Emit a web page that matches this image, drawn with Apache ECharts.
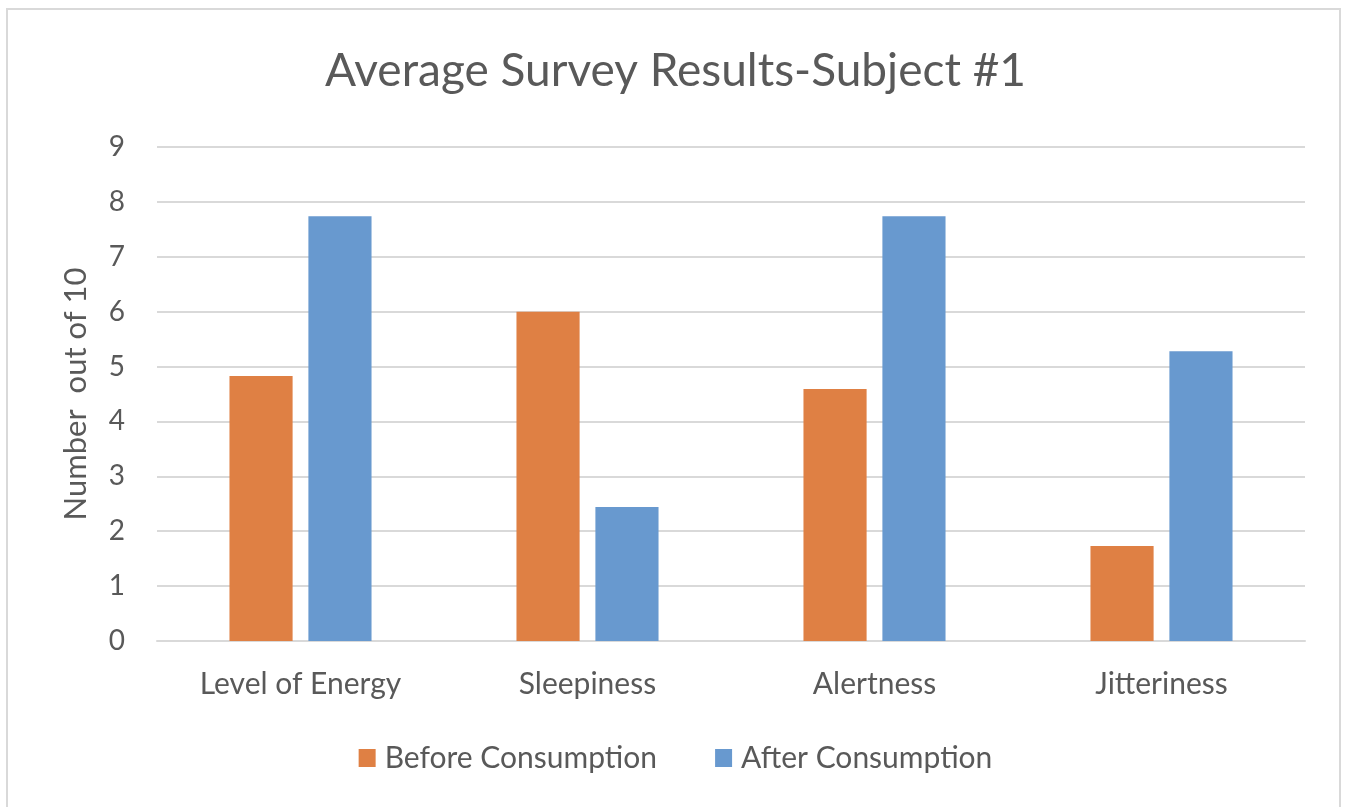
<!DOCTYPE html>
<html>
<head>
<meta charset="utf-8">
<script src="https://cdn.jsdelivr.net/npm/echarts@6/dist/echarts.min.js"></script>
<style>
  html, body { margin: 0; padding: 0; background: #fff; }
  #frame { position: absolute; left: 6px; top: 8px; width: 1335px; height: 810px; border: 2px solid #d9d9d9; box-sizing: border-box; }
  #chart { position: absolute; left: 0; top: 0; width: 1351px; height: 807px; }
</style>
</head>
<body>
<div id="frame"></div>
<div id="chart"></div>
<script>
const categories = ['Level of Energy', 'Sleepiness', 'Alertness', 'Jitteriness'];
const beforeValues = [4.83, 6.0, 4.59, 1.73];
const afterValues = [7.74, 2.44, 7.74, 5.28];

const textColor = '#595959';
const font = 'Lato, "Open Sans", sans-serif';

const chart = echarts.init(document.getElementById('chart'));
const option = {
  title: {
    text: 'Average Survey Results-Subject #1',
    left: 'center',
    top: 43,
    textStyle: { fontFamily: font, fontSize: 46, fontWeight: 'normal', color: textColor }
  },
  legend: {
    bottom: 29,
    left: 'center',
    itemWidth: 17,
    itemHeight: 18,
    itemGap: 58,
    icon: 'rect',
    textStyle: { fontFamily: font, fontSize: 30, color: textColor, padding: [0, 0, 0, 4] }
  },
  grid: { left: 157, right: 46, top: 147, bottom: 166 },
  xAxis: {
    type: 'category',
    data: categories,
    axisLine: { lineStyle: { color: '#d9d9d9', width: 2 } },
    axisTick: { show: false },
    axisLabel: { fontFamily: font, fontSize: 30, color: textColor, margin: 28 }
  },
  yAxis: {
    type: 'value',
    min: 0,
    max: 9,
    interval: 1,
    name: 'Number  out of 10',
    nameLocation: 'middle',
    nameGap: 66,
    nameTextStyle: { fontFamily: font, fontSize: 31, color: textColor },
    axisLine: { show: false },
    axisTick: { show: false },
    axisLabel: { fontFamily: font, fontSize: 28, color: textColor, margin: 32 },
    splitLine: { lineStyle: { color: '#d9d9d9', width: 2 } }
  },
  series: [
    {
      name: 'Before Consumption',
      type: 'bar',
      data: beforeValues,
      barWidth: '22%',
      barGap: '25%',
      itemStyle: { color: '#DF8044' }
    },
    {
      name: 'After Consumption',
      type: 'bar',
      data: afterValues,
      barWidth: '22%',
      itemStyle: { color: '#6899CF' }
    }
  ]
};
chart.setOption(option);
</script>
</body>
</html>
